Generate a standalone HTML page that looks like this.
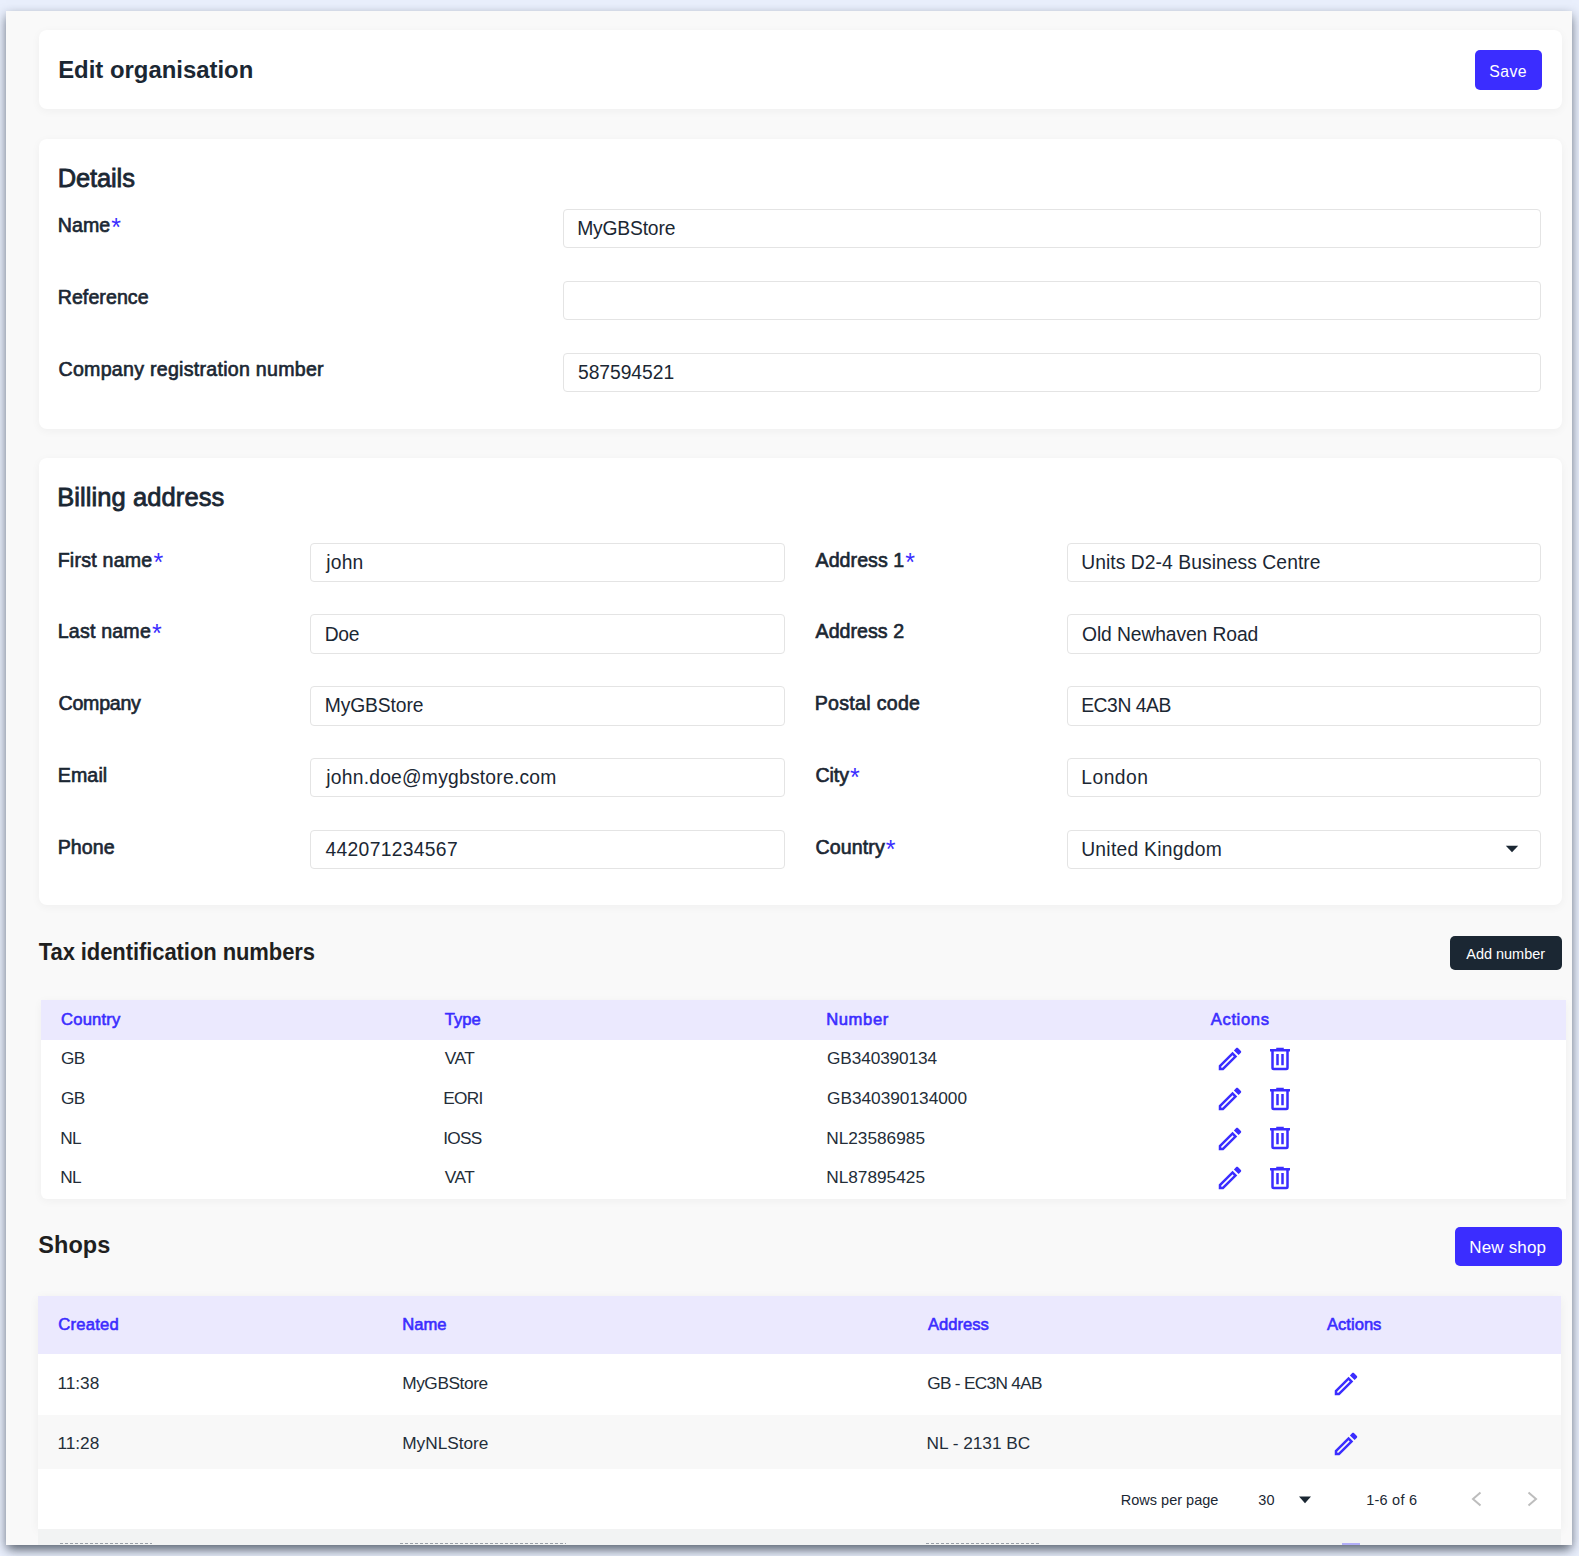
<!DOCTYPE html>
<html><head><meta charset="utf-8">
<style>
html,body{margin:0;padding:0}
body{width:1579px;height:1556px;overflow:hidden;position:relative;background:#e9effc;font-family:"Liberation Sans",sans-serif;color:#1b2733}
.t{position:absolute;white-space:nowrap;line-height:1}
</style></head>
<body>
<div style="position:absolute;left:6px;top:11px;width:1566px;height:1534px;background:#f9f9f9;box-shadow:0 4px 10px rgba(25,35,50,.5),0 8px 10px -4px rgba(25,35,50,.35);"></div>
<div style="position:absolute;left:38.5px;top:30.3px;width:1523.5px;height:79px;background:#fff;border-radius:8px;box-shadow:0 2px 10px rgba(0,0,0,.045);"></div>
<div class="t" id="t1" style="left:58.20px;top:57.76px;font-size:23.9px;font-weight:bold;color:#1b2733;">Edit organisation</div>
<div style="position:absolute;left:1475px;top:50px;width:67px;height:40px;background:#3b2dff;border-radius:5px;"></div>
<div class="t" id="t2" style="left:1489.20px;top:63.92px;font-size:15.8px;letter-spacing:0.480px;color:#fff;">Save</div>
<div style="position:absolute;left:38.5px;top:139px;width:1523.5px;height:289.5px;background:#fff;border-radius:8px;box-shadow:0 2px 10px rgba(0,0,0,.045);"></div>
<div class="t" id="t3" style="left:57.68px;top:165.61px;font-size:25.5px;letter-spacing:-0.120px;-webkit-text-stroke:0.8px currentColor;color:#1b2733;">Details</div>
<div class="t" id="t4" style="left:57.70px;top:216.40px;font-size:19.6px;letter-spacing:0.090px;-webkit-text-stroke:0.65px currentColor;color:#1b2733;">Name<span style="color:#3b2dff;font-size:25px;vertical-align:top;position:relative;top:-1px;-webkit-text-stroke:0;margin-left:1px">*</span></div>
<div style="position:absolute;left:562.5px;top:208.5px;width:978.2px;height:39.5px;box-sizing:border-box;border:1px solid #e4e4e4;border-radius:4px;background:#fff;"></div>
<div class="t" id="t5" style="left:577.18px;top:218.66px;font-size:19.3px;letter-spacing:-0.180px;color:#1b2733;">MyGBStore</div>
<div class="t" id="t6" style="left:57.70px;top:288.40px;font-size:19.6px;letter-spacing:0.068px;-webkit-text-stroke:0.65px currentColor;color:#1b2733;">Reference</div>
<div style="position:absolute;left:562.5px;top:280.5px;width:978.2px;height:39.5px;box-sizing:border-box;border:1px solid #e4e4e4;border-radius:4px;background:#fff;"></div>
<div class="t" id="t7" style="left:58.50px;top:360.40px;font-size:19.6px;letter-spacing:0.270px;-webkit-text-stroke:0.65px currentColor;color:#1b2733;">Company registration number</div>
<div style="position:absolute;left:562.5px;top:352.5px;width:978.2px;height:39.5px;box-sizing:border-box;border:1px solid #e4e4e4;border-radius:4px;background:#fff;"></div>
<div class="t" id="t8" style="left:577.98px;top:362.66px;font-size:19.3px;letter-spacing:-0.045px;color:#1b2733;">587594521</div>
<div style="position:absolute;left:38.5px;top:458px;width:1523.5px;height:447px;background:#fff;border-radius:8px;box-shadow:0 2px 10px rgba(0,0,0,.045);"></div>
<div class="t" id="t9" style="left:57.16px;top:484.61px;font-size:25.5px;letter-spacing:0.090px;-webkit-text-stroke:0.8px currentColor;color:#1b2733;">Billing address</div>
<div class="t" id="t10" style="left:57.70px;top:550.60px;font-size:19.6px;letter-spacing:0.216px;-webkit-text-stroke:0.65px currentColor;color:#1b2733;">First name<span style="color:#3b2dff;font-size:25px;vertical-align:top;position:relative;top:-1px;-webkit-text-stroke:0;margin-left:1px">*</span></div>
<div style="position:absolute;left:310px;top:542.7px;width:474.5px;height:39.5px;box-sizing:border-box;border:1px solid #e4e4e4;border-radius:4px;background:#fff;"></div>
<div class="t" id="t11" style="left:326.30px;top:552.86px;font-size:19.3px;letter-spacing:0.180px;color:#1b2733;">john</div>
<div class="t" id="t12" style="left:815.52px;top:550.60px;font-size:19.6px;letter-spacing:0.060px;-webkit-text-stroke:0.65px currentColor;color:#1b2733;">Address 1<span style="color:#3b2dff;font-size:25px;vertical-align:top;position:relative;top:-1px;-webkit-text-stroke:0;margin-left:1px">*</span></div>
<div style="position:absolute;left:1066.5px;top:542.7px;width:474.5px;height:39.5px;box-sizing:border-box;border:1px solid #e4e4e4;border-radius:4px;background:#fff;"></div>
<div class="t" id="t13" style="left:1081.20px;top:552.86px;font-size:19.3px;letter-spacing:0.058px;color:#1b2733;">Units D2-4 Business Centre</div>
<div class="t" id="t14" style="left:57.70px;top:622.35px;font-size:19.6px;letter-spacing:0.200px;-webkit-text-stroke:0.65px currentColor;color:#1b2733;">Last name<span style="color:#3b2dff;font-size:25px;vertical-align:top;position:relative;top:-1px;-webkit-text-stroke:0;margin-left:1px">*</span></div>
<div style="position:absolute;left:310px;top:614.45px;width:474.5px;height:39.5px;box-sizing:border-box;border:1px solid #e4e4e4;border-radius:4px;background:#fff;"></div>
<div class="t" id="t15" style="left:324.70px;top:624.61px;font-size:19.3px;letter-spacing:-0.270px;color:#1b2733;">Doe</div>
<div class="t" id="t16" style="left:815.52px;top:622.35px;font-size:19.6px;letter-spacing:0.045px;-webkit-text-stroke:0.65px currentColor;color:#1b2733;">Address 2</div>
<div style="position:absolute;left:1066.5px;top:614.45px;width:474.5px;height:39.5px;box-sizing:border-box;border:1px solid #e4e4e4;border-radius:4px;background:#fff;"></div>
<div class="t" id="t17" style="left:1082.00px;top:624.61px;font-size:19.3px;letter-spacing:-0.102px;color:#1b2733;">Old Newhaven Road</div>
<div class="t" id="t18" style="left:58.50px;top:694.10px;font-size:19.6px;letter-spacing:-0.240px;-webkit-text-stroke:0.65px currentColor;color:#1b2733;">Company</div>
<div style="position:absolute;left:310px;top:686.2px;width:474.5px;height:39.5px;box-sizing:border-box;border:1px solid #e4e4e4;border-radius:4px;background:#fff;"></div>
<div class="t" id="t19" style="left:324.70px;top:696.36px;font-size:19.3px;letter-spacing:-0.112px;color:#1b2733;">MyGBStore</div>
<div class="t" id="t20" style="left:814.72px;top:694.10px;font-size:19.6px;letter-spacing:0.288px;-webkit-text-stroke:0.65px currentColor;color:#1b2733;">Postal code</div>
<div style="position:absolute;left:1066.5px;top:686.2px;width:474.5px;height:39.5px;box-sizing:border-box;border:1px solid #e4e4e4;border-radius:4px;background:#fff;"></div>
<div class="t" id="t21" style="left:1081.20px;top:696.36px;font-size:19.3px;letter-spacing:-0.437px;color:#1b2733;">EC3N 4AB</div>
<div class="t" id="t22" style="left:57.70px;top:765.85px;font-size:19.6px;letter-spacing:0.135px;-webkit-text-stroke:0.65px currentColor;color:#1b2733;">Email</div>
<div style="position:absolute;left:310px;top:757.95px;width:474.5px;height:39.5px;box-sizing:border-box;border:1px solid #e4e4e4;border-radius:4px;background:#fff;"></div>
<div class="t" id="t23" style="left:326.30px;top:768.11px;font-size:19.3px;letter-spacing:0.223px;color:#1b2733;">john.doe@mygbstore.com</div>
<div class="t" id="t24" style="left:815.52px;top:765.85px;font-size:19.6px;letter-spacing:-0.090px;-webkit-text-stroke:0.65px currentColor;color:#1b2733;">City<span style="color:#3b2dff;font-size:25px;vertical-align:top;position:relative;top:-1px;-webkit-text-stroke:0;margin-left:1px">*</span></div>
<div style="position:absolute;left:1066.5px;top:757.95px;width:474.5px;height:39.5px;box-sizing:border-box;border:1px solid #e4e4e4;border-radius:4px;background:#fff;"></div>
<div class="t" id="t25" style="left:1081.20px;top:768.11px;font-size:19.3px;letter-spacing:0.504px;color:#1b2733;">London</div>
<div class="t" id="t26" style="left:57.70px;top:837.60px;font-size:19.6px;letter-spacing:0.090px;-webkit-text-stroke:0.65px currentColor;color:#1b2733;">Phone</div>
<div style="position:absolute;left:310px;top:829.7px;width:474.5px;height:39.5px;box-sizing:border-box;border:1px solid #e4e4e4;border-radius:4px;background:#fff;"></div>
<div class="t" id="t27" style="left:325.50px;top:839.86px;font-size:19.3px;letter-spacing:0.311px;color:#1b2733;">442071234567</div>
<div class="t" id="t28" style="left:815.52px;top:837.60px;font-size:19.6px;letter-spacing:0.102px;-webkit-text-stroke:0.65px currentColor;color:#1b2733;">Country<span style="color:#3b2dff;font-size:25px;vertical-align:top;position:relative;top:-1px;-webkit-text-stroke:0;margin-left:1px">*</span></div>
<div style="position:absolute;left:1066.5px;top:829.7px;width:474.5px;height:39.5px;box-sizing:border-box;border:1px solid #e4e4e4;border-radius:4px;background:#fff;"></div>
<div class="t" id="t29" style="left:1081.20px;top:839.86px;font-size:19.3px;letter-spacing:0.263px;color:#1b2733;">United Kingdom</div>
<svg style="position:absolute;left:1505px;top:845px" width="14" height="8" viewBox="0 0 14 8"><path fill="#1b2733" d="M0.8,0.8H13.2L7,7.2Z"/></svg>
<div class="t" id="t30" style="left:38.76px;top:941.77px;font-size:22px;letter-spacing:-0.079px;font-weight:bold;color:#1f1f1f;transform:scaleY(1.1);transform-origin:0 84.7%;">Tax identification numbers</div>
<div style="position:absolute;left:1450px;top:936px;width:112px;height:34px;background:#1b2733;border-radius:5px;"></div>
<div class="t" id="t31" style="left:1466.28px;top:946.62px;font-size:14.5px;letter-spacing:-0.020px;color:#fff;">Add number</div>
<div style="position:absolute;left:40.5px;top:1000px;width:1525.5px;height:198.5px;background:#fff;border-radius:0 0 0 6px;box-shadow:0 2px 10px rgba(0,0,0,.045);"></div>
<div style="position:absolute;left:40.5px;top:1000px;width:1525.5px;height:40px;background:#ebe9fe;"></div>
<div class="t" id="t32" style="left:61.00px;top:1011.74px;font-size:16.6px;letter-spacing:0.210px;-webkit-text-stroke:0.6px currentColor;color:#3b2dff;">Country</div>
<div class="t" id="t33" style="left:444.78px;top:1011.74px;font-size:16.6px;-webkit-text-stroke:0.6px currentColor;color:#3b2dff;">Type</div>
<div class="t" id="t34" style="left:826.18px;top:1011.74px;font-size:16.6px;letter-spacing:0.612px;-webkit-text-stroke:0.6px currentColor;color:#3b2dff;">Number</div>
<div class="t" id="t35" style="left:1210.78px;top:1011.74px;font-size:16.6px;letter-spacing:0.625px;-webkit-text-stroke:0.6px currentColor;color:#3b2dff;">Actions</div>
<div class="t" id="t36" style="left:61.00px;top:1050.39px;font-size:17.25px;letter-spacing:-0.700px;color:#232d38;">GB</div>
<div class="t" id="t37" style="left:444.78px;top:1050.39px;font-size:17.25px;letter-spacing:-0.430px;color:#232d38;">VAT</div>
<div class="t" id="t38" style="left:826.98px;top:1050.39px;font-size:17.25px;letter-spacing:-0.108px;color:#232d38;">GB340390134</div>
<svg style="position:absolute;left:1214.7px;top:1044.2px" width="30" height="30" viewBox="0 0 24 24"><path fill="#3b2dff" d="M14.06,9L15,9.94L5.92,19H5V18.08L14.06,9M17.66,3C17.41,3 17.15,3.1 16.96,3.29L15.13,5.12L18.88,8.87L20.71,7.04C21.1,6.65 21.1,6 20.71,5.63L18.37,3.29C18.17,3.09 17.92,3 17.66,3M14.06,6.19L3,17.25V21H6.75L17.81,9.94L14.06,6.19Z"/></svg>
<svg style="position:absolute;left:1265.2px;top:1043.9px" width="30" height="30" viewBox="0 0 24 24"><path fill="#3b2dff" d="M9,3V4H4V6H5V19A2,2 0 0,0 7,21H17A2,2 0 0,0 19,19V6H20V4H15V3H9M7,6H17V19H7V6M9,8V17H11V8H9M13,8V17H15V8H13Z"/></svg>
<div class="t" id="t39" style="left:61.00px;top:1090.09px;font-size:17.25px;letter-spacing:-0.700px;color:#232d38;">GB</div>
<div class="t" id="t40" style="left:443.18px;top:1090.09px;font-size:17.25px;letter-spacing:-0.700px;color:#232d38;">EORI</div>
<div class="t" id="t41" style="left:826.98px;top:1090.09px;font-size:17.25px;color:#232d38;">GB340390134000</div>
<svg style="position:absolute;left:1214.7px;top:1083.9px" width="30" height="30" viewBox="0 0 24 24"><path fill="#3b2dff" d="M14.06,9L15,9.94L5.92,19H5V18.08L14.06,9M17.66,3C17.41,3 17.15,3.1 16.96,3.29L15.13,5.12L18.88,8.87L20.71,7.04C21.1,6.65 21.1,6 20.71,5.63L18.37,3.29C18.17,3.09 17.92,3 17.66,3M14.06,6.19L3,17.25V21H6.75L17.81,9.94L14.06,6.19Z"/></svg>
<svg style="position:absolute;left:1265.2px;top:1083.6000000000001px" width="30" height="30" viewBox="0 0 24 24"><path fill="#3b2dff" d="M9,3V4H4V6H5V19A2,2 0 0,0 7,21H17A2,2 0 0,0 19,19V6H20V4H15V3H9M7,6H17V19H7V6M9,8V17H11V8H9M13,8V17H15V8H13Z"/></svg>
<div class="t" id="t42" style="left:60.20px;top:1129.79px;font-size:17.25px;letter-spacing:-0.700px;color:#232d38;">NL</div>
<div class="t" id="t43" style="left:443.18px;top:1129.79px;font-size:17.25px;letter-spacing:-0.700px;color:#232d38;">IOSS</div>
<div class="t" id="t44" style="left:826.18px;top:1129.79px;font-size:17.25px;color:#232d38;">NL23586985</div>
<svg style="position:absolute;left:1214.7px;top:1123.6000000000001px" width="30" height="30" viewBox="0 0 24 24"><path fill="#3b2dff" d="M14.06,9L15,9.94L5.92,19H5V18.08L14.06,9M17.66,3C17.41,3 17.15,3.1 16.96,3.29L15.13,5.12L18.88,8.87L20.71,7.04C21.1,6.65 21.1,6 20.71,5.63L18.37,3.29C18.17,3.09 17.92,3 17.66,3M14.06,6.19L3,17.25V21H6.75L17.81,9.94L14.06,6.19Z"/></svg>
<svg style="position:absolute;left:1265.2px;top:1123.3000000000002px" width="30" height="30" viewBox="0 0 24 24"><path fill="#3b2dff" d="M9,3V4H4V6H5V19A2,2 0 0,0 7,21H17A2,2 0 0,0 19,19V6H20V4H15V3H9M7,6H17V19H7V6M9,8V17H11V8H9M13,8V17H15V8H13Z"/></svg>
<div class="t" id="t45" style="left:60.20px;top:1169.49px;font-size:17.25px;letter-spacing:-0.700px;color:#232d38;">NL</div>
<div class="t" id="t46" style="left:444.78px;top:1169.49px;font-size:17.25px;letter-spacing:-0.430px;color:#232d38;">VAT</div>
<div class="t" id="t47" style="left:826.18px;top:1169.49px;font-size:17.25px;color:#232d38;">NL87895425</div>
<svg style="position:absolute;left:1214.7px;top:1163.3px" width="30" height="30" viewBox="0 0 24 24"><path fill="#3b2dff" d="M14.06,9L15,9.94L5.92,19H5V18.08L14.06,9M17.66,3C17.41,3 17.15,3.1 16.96,3.29L15.13,5.12L18.88,8.87L20.71,7.04C21.1,6.65 21.1,6 20.71,5.63L18.37,3.29C18.17,3.09 17.92,3 17.66,3M14.06,6.19L3,17.25V21H6.75L17.81,9.94L14.06,6.19Z"/></svg>
<svg style="position:absolute;left:1265.2px;top:1163.0px" width="30" height="30" viewBox="0 0 24 24"><path fill="#3b2dff" d="M9,3V4H4V6H5V19A2,2 0 0,0 7,21H17A2,2 0 0,0 19,19V6H20V4H15V3H9M7,6H17V19H7V6M9,8V17H11V8H9M13,8V17H15V8H13Z"/></svg>
<div class="t" id="t48" style="left:38.22px;top:1233.85px;font-size:23.5px;letter-spacing:0.090px;font-weight:bold;color:#1f1f1f;">Shops</div>
<div style="position:absolute;left:1454.6px;top:1226.8px;width:107px;height:39px;background:#3b2dff;border-radius:5px;"></div>
<div class="t" id="t49" style="left:1469.20px;top:1238.91px;font-size:17px;letter-spacing:0.180px;color:#fff;">New shop</div>
<div style="position:absolute;left:38.4px;top:1295.7px;width:1522.6px;height:233.3px;background:#fff;box-shadow:0 2px 10px rgba(0,0,0,.05);"></div>
<div style="position:absolute;left:38.4px;top:1295.7px;width:1522.6px;height:58.8px;background:#ebe9fe;"></div>
<div style="position:absolute;left:38.4px;top:1414.6px;width:1522.6px;height:54.6px;background:#f8f8f8;"></div>
<div class="t" id="t50" style="left:58.22px;top:1317.14px;font-size:16.6px;letter-spacing:0.240px;-webkit-text-stroke:0.6px currentColor;color:#3b2dff;">Created</div>
<div class="t" id="t51" style="left:402.20px;top:1317.14px;font-size:16.6px;-webkit-text-stroke:0.6px currentColor;color:#3b2dff;">Name</div>
<div class="t" id="t52" style="left:928.04px;top:1317.14px;font-size:16.6px;-webkit-text-stroke:0.6px currentColor;color:#3b2dff;">Address</div>
<div class="t" id="t53" style="left:1327.00px;top:1317.14px;font-size:16.6px;-webkit-text-stroke:0.6px currentColor;color:#3b2dff;">Actions</div>
<div class="t" id="t54" style="left:57.42px;top:1375.39px;font-size:17.25px;color:#232d38;">11:38</div>
<div class="t" id="t55" style="left:402.20px;top:1375.39px;font-size:17.25px;letter-spacing:-0.406px;color:#232d38;">MyGBStore</div>
<div class="t" id="t56" style="left:927.24px;top:1375.39px;font-size:17.25px;letter-spacing:-0.700px;color:#232d38;">GB - EC3N 4AB</div>
<svg style="position:absolute;left:1331.2px;top:1369px" width="30" height="30" viewBox="0 0 24 24"><path fill="#3b2dff" d="M14.06,9L15,9.94L5.92,19H5V18.08L14.06,9M17.66,3C17.41,3 17.15,3.1 16.96,3.29L15.13,5.12L18.88,8.87L20.71,7.04C21.1,6.65 21.1,6 20.71,5.63L18.37,3.29C18.17,3.09 17.92,3 17.66,3M14.06,6.19L3,17.25V21H6.75L17.81,9.94L14.06,6.19Z"/></svg>
<div class="t" id="t57" style="left:57.42px;top:1435.09px;font-size:17.25px;color:#232d38;">11:28</div>
<div class="t" id="t58" style="left:402.20px;top:1435.09px;font-size:17.25px;color:#232d38;">MyNLStore</div>
<div class="t" id="t59" style="left:926.44px;top:1435.09px;font-size:17.25px;color:#232d38;">NL - 2131 BC</div>
<svg style="position:absolute;left:1331.2px;top:1428.8px" width="30" height="30" viewBox="0 0 24 24"><path fill="#3b2dff" d="M14.06,9L15,9.94L5.92,19H5V18.08L14.06,9M17.66,3C17.41,3 17.15,3.1 16.96,3.29L15.13,5.12L18.88,8.87L20.71,7.04C21.1,6.65 21.1,6 20.71,5.63L18.37,3.29C18.17,3.09 17.92,3 17.66,3M14.06,6.19L3,17.25V21H6.75L17.81,9.94L14.06,6.19Z"/></svg>
<div style="position:absolute;left:38.4px;top:1529px;width:1522.6px;height:15.5px;background:#f2f3f3;"></div>
<div style="position:absolute;left:60px;top:1542.8px;width:92px;height:1.7px;background:repeating-linear-gradient(90deg,#9aa0a8 0 3px,transparent 3px 5px);"></div>
<div style="position:absolute;left:400px;top:1542.8px;width:166px;height:1.7px;background:repeating-linear-gradient(90deg,#9aa0a8 0 3px,transparent 3px 5px);"></div>
<div style="position:absolute;left:926px;top:1542.8px;width:114px;height:1.7px;background:repeating-linear-gradient(90deg,#9aa0a8 0 3px,transparent 3px 5px);"></div>
<div style="position:absolute;left:1342px;top:1543px;width:18px;height:1.5px;background:#3b2dff;opacity:.35;"></div>
<div class="t" id="t60" style="left:1120.72px;top:1493.02px;font-size:14.5px;letter-spacing:0.015px;color:#1b2733;">Rows per page</div>
<div class="t" id="t61" style="left:1258.24px;top:1493.02px;font-size:14.5px;letter-spacing:0.180px;color:#1b2733;">30</div>
<svg style="position:absolute;left:1298px;top:1496px" width="14" height="8" viewBox="0 0 14 8"><path fill="#1b2733" d="M1,0.5H13L7,7.2Z"/></svg>
<div class="t" id="t62" style="left:1366.20px;top:1493.02px;font-size:14.5px;letter-spacing:0.231px;color:#1b2733;">1-6 of 6</div>
<svg style="position:absolute;left:1468px;top:1489px" width="16" height="20" viewBox="0 0 16 20"><path fill="none" stroke="#bdbdbd" stroke-width="2" d="M12.5,3.5L5,10L12.5,16.5"/></svg>
<svg style="position:absolute;left:1525px;top:1489px" width="16" height="20" viewBox="0 0 16 20"><path fill="none" stroke="#bdbdbd" stroke-width="2" d="M3.5,3.5L11,10L3.5,16.5"/></svg>
</body></html>
